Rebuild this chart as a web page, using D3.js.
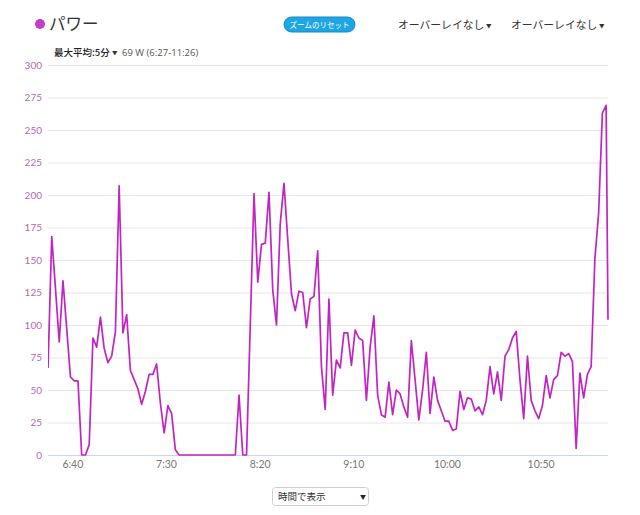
<!DOCTYPE html>
<html><head><meta charset="utf-8">
<script src="https://cdn.jsdelivr.net/npm/d3@7"></script>
<style>
body{margin:0;background:#fff;}
svg{display:block;}
</style>
</head><body>
<svg id="chart" width="640" height="515"></svg>
<script>
// ---- data ----
const seriesName = "パワー";
const startTime = "6:27";
const endTime = "11:26";
const stepMinutes = 2;
const powerValues = [
  67,168,128,87,134,97,60,57,57,0,
  0,8,90,83,106,82,71,76,95,207,
  94,108,65,58,51,39,49,62,62,70,
  40,17,38,32,4,0,0,0,0,0,
  0,0,0,0,0,0,0,0,0,0,
  0,46,0,0,100,201,133,162,163,202,
  127,100,178,209,166,124,111,126,125,98,
  120,122,157,68,35,120,46,73,67,94,
  94,69,96,90,88,42,83,107,46,31,
  29,56,31,50,47,37,29,88,58,27,
  50,79,32,60,42,34,26,26,19,20,
  49,35,44,43,34,37,31,42,68,47,
  64,42,76,81,90,95,58,28,76,42,
  34,28,38,61,44,58,61,79,76,78,
  72,5,63,44,62,68,151,186,263,269,
  104
];
const yTickValues = [0,25,50,75,100,125,150,175,200,225,250,275,300];
const xTickLabels = ["6:40","7:30","8:20","9:10","10:00","10:50"];
const headerTexts = {
  reset: "ズームのリセット",
  overlay: "オーバーレイなし",
  maxAvgLabel: "最大平均:5分",
  maxAvgValue: "69 W (6:27-11:26)",
  viewMode: "時間で表示"
};

// ---- setup ----
const parseT = d3.timeParse("%H:%M");
const fmtT = d3.timeFormat("%-H:%M");
const t0 = parseT(startTime), t1 = parseT(endTime);
const points = powerValues.map((v, i) => {
  let t = d3.timeMinute.offset(t0, i * stepMinutes);
  if (t > t1) t = t1;
  return {t, v};
});

const svg = d3.select("#chart");
const jp = "'Noto Sans CJK JP','Noto Sans',sans-serif";
const num = "Lato,'Open Sans',sans-serif";
const M = {left: 48, right: 608, top: 65, bottom: 455};

const x = d3.scaleTime().domain([t0, t1]).range([M.left, M.right]);
const y = d3.scaleLinear().domain([0, 300]).range([M.bottom, M.top]);

// gridlines
svg.append("g").selectAll("line").data(yTickValues.filter(d => d > 0)).join("line")
  .attr("x1", M.left).attr("x2", M.right)
  .attr("y1", d => y(d) + 0.5).attr("y2", d => y(d) + 0.5)
  .attr("stroke", "#e6e6e6").attr("stroke-width", 1);

// y axis
const yAxis = svg.append("g").attr("transform", `translate(${M.left},0)`)
  .call(d3.axisLeft(y).tickValues(yTickValues).tickSize(0).tickPadding(6));
yAxis.select(".domain").remove();
yAxis.selectAll("text").attr("fill", "#b867b8").attr("font-family", num).attr("font-size", 10);

// x axis
const xTicks = xTickLabels.map(s => parseT(s));
const xAxis = svg.append("g").attr("transform", `translate(0,${M.bottom})`)
  .call(d3.axisBottom(x).tickValues(xTicks).tickFormat(fmtT).tickSize(0).tickPadding(6));
xAxis.select(".domain").attr("stroke", "#ccd6eb").attr("d", `M${M.left},0.5H${M.right}`);
xAxis.selectAll("text").attr("fill", "#777").attr("font-family", num).attr("font-size", 10.5);

// line
svg.append("defs").append("clipPath").attr("id", "clip")
  .append("rect").attr("x", M.left).attr("y", M.top - 10).attr("width", M.right - M.left + 1).attr("height", M.bottom - M.top + 12);
svg.append("path").datum(points)
  .attr("clip-path", "url(#clip)")
  .attr("d", d3.line().x(d => x(d.t)).y(d => y(d.v)))
  .attr("fill", "none").attr("stroke", "#c224c2").attr("stroke-width", 1.7)
  .attr("stroke-linejoin", "round");

// header
svg.append("circle").attr("cx", 40).attr("cy", 24).attr("r", 5).attr("fill", "#c83ac8");
svg.append("text").attr("x", 49).attr("y", 30).text(seriesName)
  .attr("font-family", jp).attr("font-size", 16.5).attr("fill", "#333");

const btn = svg.append("g");
btn.append("rect").attr("x", 284).attr("y", 17).attr("width", 71).attr("height", 15).attr("rx", 7.5)
  .attr("fill", "#1ea6e3").attr("stroke", "#1589c6");
btn.append("text").attr("x", 319.5).attr("y", 27.5).attr("text-anchor", "middle")
  .text(headerTexts.reset).attr("font-family", jp).attr("font-size", 7.5).attr("fill", "#fff");

[398, 511].forEach(px => {
  svg.append("text").attr("x", px).attr("y", 28.5).text(headerTexts.overlay)
    .attr("font-family", jp).attr("font-size", 10.8).attr("fill", "#333");
  svg.append("text").attr("x", px + 88).attr("y", 27.5).text("▼")
    .attr("font-family", jp).attr("font-size", 5.5).attr("fill", "#333");
});

svg.append("text").attr("x", 54).attr("y", 56).text(headerTexts.maxAvgLabel)
  .attr("font-family", jp).attr("font-size", 9.5).attr("fill", "#222").attr("font-weight", 500);
svg.append("text").attr("x", 112).attr("y", 55).text("▼")
  .attr("font-family", jp).attr("font-size", 5.5).attr("fill", "#333");
svg.append("text").attr("x", 122).attr("y", 56).text(headerTexts.maxAvgValue)
  .attr("font-family", "'Open Sans',sans-serif").attr("font-size", 9.5).attr("fill", "#555");

// bottom dropdown
const dd = svg.append("g");
dd.append("rect").attr("x", 272.5).attr("y", 487.5).attr("width", 96).attr("height", 18).attr("rx", 3)
  .attr("fill", "#fff").attr("stroke", "#cfcfcf");
dd.append("text").attr("x", 278).attr("y", 500).text(headerTexts.viewMode)
  .attr("font-family", jp).attr("font-size", 9.5).attr("fill", "#333");
dd.append("text").attr("x", 360).attr("y", 499).text("▼")
  .attr("font-family", jp).attr("font-size", 6).attr("fill", "#222");
</script>
</body></html>
